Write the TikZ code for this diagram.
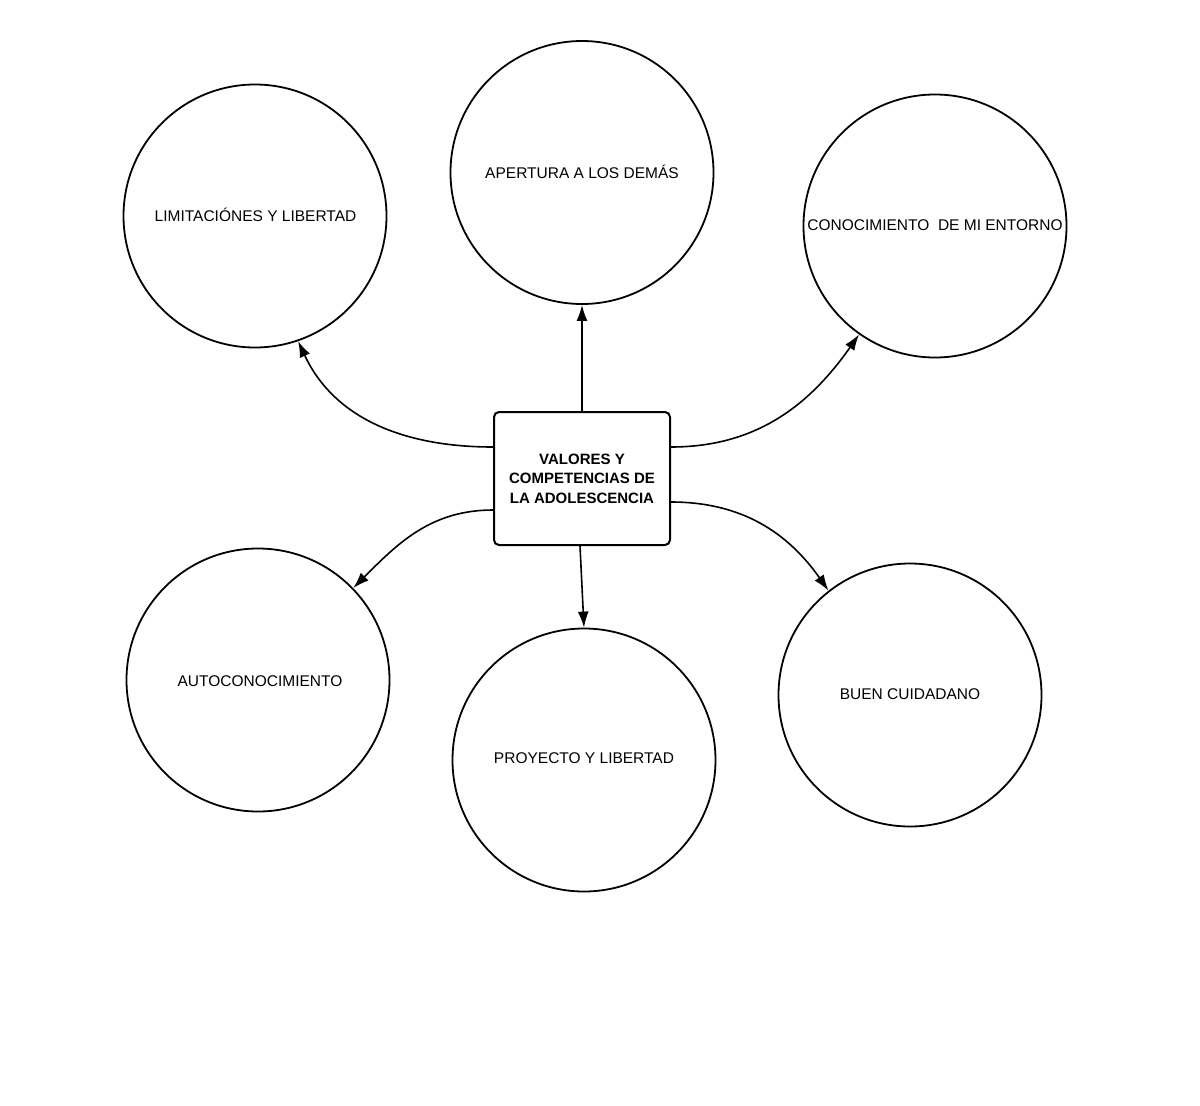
\documentclass[tikz,border=0pt]{standalone}
\usepackage{fontspec}
\setmainfont{Liberation Sans}
\usetikzlibrary{arrows.meta}
\begin{document}
\begin{tikzpicture}[x=1pt,y=-1pt,
  bubble/.style={draw=black,line width=1.8pt,circle,minimum size=263pt,inner sep=0pt},
  txt/.style={font=\fontsize{15.5}{18}\selectfont,inner sep=0pt},
  centerbox/.style={draw=black,line width=2pt,rounded corners=5pt,minimum width=176pt,minimum height=133pt,inner sep=0pt,align=center,font=\fontsize{15}{19.5}\selectfont\bfseries},
  conn/.style={line width=1.6pt,-{Latex[length=16pt,width=11pt]}}]
\useasboundingbox (0,0) rectangle (1200,1106);
\fill[white] (0,0) rectangle (1200,1106);

\node[centerbox] (box) at (582,478.5) {VALORES Y\\COMPETENCIAS DE\\LA ADOLESCENCIA};

\node[bubble] (c1) at (255,216) {};
\node[bubble] (c2) at (582,172.5) {};
\node[bubble] (c3) at (935,226) {};
\node[bubble] (c4) at (258,680) {};
\node[bubble] (c5) at (584,760) {};
\node[bubble] (c6) at (910,695) {};

\node[txt] (t1) at (255.5,215) {LIMITACIÓNES Y LIBERTAD};
\node[txt] (t2) at (582,172) {APERTURA A LOS DEMÁS};
\node[txt] (t3) at (935,225) {CONOCIMIENTO\ \ DE MI ENTORNO};
\node[txt] (t4) at (260,681) {AUTOCONOCIMIENTO};
\node[txt] (t5) at (584,758) {PROYECTO Y LIBERTAD};
\node[txt] (t6) at (910,694) {BUEN CUIDADANO};

\coordinate (bw1) at ([yshift=31.5pt]box.west);
\coordinate (bw2) at ([yshift=-31.5pt]box.west);
\coordinate (be1) at ([yshift=31.5pt]box.east);
\coordinate (be2) at ([yshift=-23.5pt]box.east);
\coordinate (bs) at ([xshift=-2pt]box.south);

\draw[conn] (bw1) to[out=180,in=-65] (c1.-71);
\draw[conn] (box.north) -- (c2.south);
\draw[conn] (be1) to[out=0,in=235] (c3.-125);
\draw[conn] (bw2) to[out=180,in=45] (c4.44);
\draw[conn] (bs) -- (c5.north);
\draw[conn] (be2) to[out=0,in=125] (c6.128);
\end{tikzpicture}
\end{document}
